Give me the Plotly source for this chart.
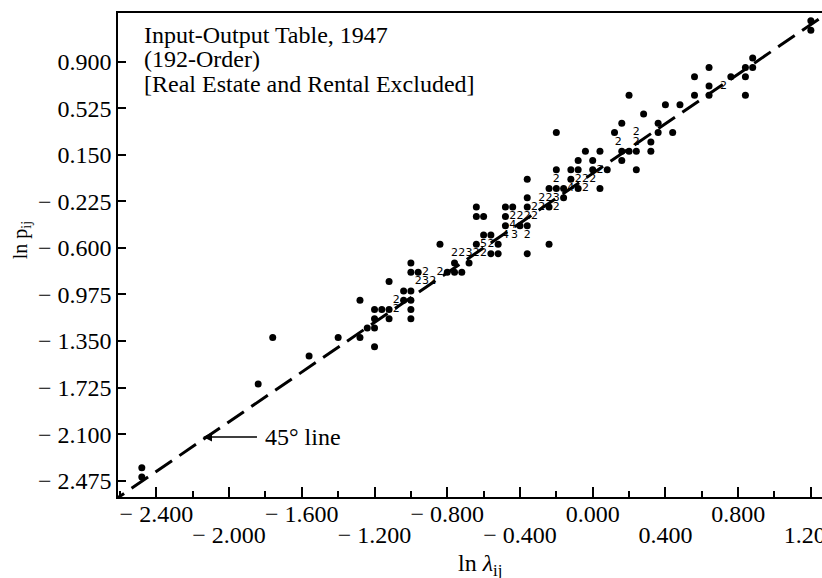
import plotly.graph_objects as go

# ---- data ----
# single observations (ln lambda_ij, ln p_ij)
dot_x = [1.20, 1.20, 0.88,
         0.64, 0.84, 0.88,
         0.56, 0.76, 0.84,
         0.64,
         0.20, 0.56, 0.64, 0.84,
         0.40, 0.48,
         0.28,
         0.16, 0.36,
         -0.20, 0.12, 0.36, 0.44,
         0.32,
         -0.04, 0.04, 0.16, 0.20, 0.24, 0.32,
         -0.08, 0.00, 0.16,
         -0.20, -0.12, -0.08, 0.00, 0.08, 0.24,
         -0.36, -0.12,
         -0.24, -0.20, -0.16, -0.08, 0.04,
         -0.36, -0.16,
         -0.64, -0.48, -0.44, -0.36, -0.24,
         -0.64, -0.60, -0.48,
         -0.48, -0.40, -0.36,
         -0.60, -0.56,
         -0.84, -0.64, -0.52, -0.24,
         -0.56, -0.52, -0.36,
         -1.00, -0.76, -0.68,
         -1.00, -0.96, -0.80, -0.76, -0.72,
         -1.12,
         -1.04, -1.00,
         -1.28, -1.04, -1.00,
         -1.20, -1.16, -1.12, -1.00,
         -1.20, -1.12, -1.00,
         -1.24, -1.20,
         -1.76, -1.40, -1.28,
         -1.20,
         -1.56,
         -1.84,
         -2.48,
         -2.48]
dot_y = [1.229, 1.154, 0.929,
         0.854, 0.854, 0.854,
         0.779, 0.779, 0.779,
         0.704,
         0.629, 0.629, 0.629, 0.629,
         0.554, 0.554,
         0.479,
         0.404, 0.404,
         0.329, 0.329, 0.329, 0.329,
         0.254,
         0.179, 0.179, 0.179, 0.179, 0.179, 0.179,
         0.104, 0.104, 0.104,
         0.029, 0.029, 0.029, 0.029, 0.029, 0.029,
         -0.046, -0.046,
         -0.121, -0.121, -0.121, -0.121, -0.121,
         -0.196, -0.196,
         -0.271, -0.271, -0.271, -0.271, -0.271,
         -0.346, -0.346, -0.346,
         -0.421, -0.421, -0.421,
         -0.496, -0.496,
         -0.571, -0.571, -0.571, -0.571,
         -0.646, -0.646, -0.646,
         -0.721, -0.721, -0.721,
         -0.796, -0.796, -0.796, -0.796, -0.796,
         -0.871,
         -0.946, -0.946,
         -1.021, -1.021, -1.021,
         -1.096, -1.096, -1.096, -1.096,
         -1.171, -1.171, -1.171,
         -1.246, -1.246,
         -1.321, -1.321, -1.321,
         -1.396,
         -1.471,
         -1.696,
         -2.371,
         -2.446]

# coincident observations, printed as their count
mult_x = [0.72, 0.14, 0.24, 0.24, 0.04,
          -0.20, -0.08, -0.04, 0.00,
          -0.12, -0.04,
          -0.28, -0.24, -0.20,
          -0.32, -0.28, -0.20,
          -0.44, -0.40, -0.36, -0.32,
          -0.44,
          -0.48, -0.43, -0.36,
          -0.60, -0.56,
          -0.76, -0.72, -0.68, -0.64, -0.60,
          -0.92, -0.84,
          -0.96, -0.92, -0.88,
          -1.08, -1.08]
mult_y = [0.704, 0.254, 0.254, 0.329, 0.029,
          -0.046, -0.046, -0.046, -0.046,
          -0.121, -0.121,
          -0.196, -0.196, -0.196,
          -0.271, -0.271, -0.271,
          -0.346, -0.346, -0.346, -0.346,
          -0.421,
          -0.496, -0.496, -0.496,
          -0.571, -0.571,
          -0.646, -0.646, -0.646, -0.646, -0.646,
          -0.796, -0.796,
          -0.871, -0.871, -0.871,
          -1.021, -1.096]
mult_count = ["2", "2", "2", "2", "2",
              "2", "2", "2", "2",
              "4", "2",
              "2", "2", "3",
              "2", "2", "2",
              "2", "2", "2", "2",
              "4",
              "4", "3", "2",
              "5", "2",
              "2", "2", "3", "2", "2",
              "2", "2",
              "2", "3", "2",
              "2", "2"]

line45 = [-2.8, 1.4]

y_ticks = [0.900, 0.525, 0.150, -0.225, -0.600, -0.975, -1.350, -1.725, -2.100, -2.475]
y_tick_text = ["0.900", "0.525", "0.150", "\u2212 0.225", "\u2212 0.600", "\u2212 0.975",
               "\u2212 1.350", "\u2212 1.725", "\u2212 2.100", "\u2212 2.475"]
x_row1 = [-2.4, -1.6, -0.8, 0.0, 0.8]
x_row1_text = ["\u2212 2.400", "\u2212 1.600", "\u2212 0.800", "0.000", "0.800"]
x_row2 = [-2.0, -1.2, -0.4, 0.4, 1.2]
x_row2_text = ["\u2212 2.000", "\u2212 1.200", "\u2212 0.400", "0.400", "1.200"]

X_RANGE = [-2.611, 1.2613]
Y_RANGE = [-2.6063, 1.2923]

SERIF = "Liberation Serif, Times New Roman, serif"

fig = go.Figure()
fig.add_trace(go.Scatter(x=line45, y=line45, mode="lines",
                         line=dict(color="black", width=3, dash="20px,9px"),
                         hoverinfo="skip", showlegend=False))
fig.add_trace(go.Scatter(x=dot_x, y=dot_y, mode="markers",
                         marker=dict(color="black", size=7, line=dict(width=0)),
                         showlegend=False))
fig.add_trace(go.Scatter(x=mult_x, y=mult_y, mode="text", text=mult_count,
                         textposition="middle center",
                         textfont=dict(family="DejaVu Sans", size=11, color="black"),
                         showlegend=False))
fig.add_trace(go.Scatter(x=[None], y=[None], xaxis="x2", yaxis="y",
                         mode="markers", showlegend=False, hoverinfo="skip"))

fig.update_layout(
    width=822, height=578,
    margin=dict(l=118, r=0, t=13, b=81),
    paper_bgcolor="white", plot_bgcolor="white",
    xaxis=dict(range=X_RANGE, showline=True, linecolor="black", linewidth=1.5, mirror=True,
               showgrid=False, zeroline=False,
               tickmode="array", tickvals=x_row1 + x_row2,
               ticktext=x_row1_text + [" "] * len(x_row2),
               ticks="inside", ticklen=10, tickwidth=1.5, tickcolor="black",
               ticklabelstandoff=-6,
               minor=dict(dtick=0.2, tick0=-2.4, ticks="inside", ticklen=6,
                          tickwidth=1.5, tickcolor="black", showgrid=False),
               tickfont=dict(family=SERIF, size=24, color="black"),
               automargin=False),
    xaxis2=dict(range=X_RANGE, overlaying="x", anchor="y", side="bottom",
                showline=False, showgrid=False, zeroline=False,
                tickmode="array", tickvals=x_row2, ticktext=x_row2_text,
                ticks="", ticklabelstandoff=21, ticklabeloverflow="allow",
                tickfont=dict(family=SERIF, size=24, color="black"),
                automargin=False),
    yaxis=dict(range=Y_RANGE, showline=True, linecolor="black", linewidth=1.5, mirror=False,
               showgrid=False, zeroline=False,
               tickmode="array", tickvals=y_ticks, ticktext=y_tick_text,
               ticks="inside", ticklen=8, tickwidth=1.5, tickcolor="black",
               tickfont=dict(family=SERIF, size=24, color="black"),
               automargin=False),
    annotations=[
        dict(xref="paper", yref="paper", x=0.034, y=0.9554, xanchor="left", yanchor="middle",
             text="Input-Output Table, 1947", showarrow=False,
             font=dict(family=SERIF, size=24, color="black")),
        dict(xref="paper", yref="paper", x=0.034, y=0.9041, xanchor="left", yanchor="middle",
             text="(192-Order)", showarrow=False,
             font=dict(family=SERIF, size=24, color="black")),
        dict(xref="paper", yref="paper", x=0.034, y=0.8533, xanchor="left", yanchor="middle",
             text="[Real Estate and Rental Excluded]", showarrow=False,
             font=dict(family=SERIF, size=24, color="black")),
        dict(xref="x", yref="y", x=-2.1436, y=-2.123, ax=54, ay=0,
             text="45\u00b0 line", showarrow=True, arrowhead=2, arrowsize=1.2,
             arrowwidth=1.5, arrowcolor="black", xanchor="left", borderpad=7,
             font=dict(family=SERIF, size=24, color="black")),
        dict(xref="paper", yref="paper", x=0.514, y=-0.1405, xanchor="center", yanchor="middle",
             text="ln <i>\u03bb</i><sub>ij</sub>", showarrow=False,
             font=dict(family=SERIF, size=24, color="black")),
        dict(xref="paper", yref="paper", x=-0.136, y=0.531, xanchor="center", yanchor="middle",
             text="ln p<sub>ij</sub>", textangle=-90, showarrow=False,
             font=dict(family=SERIF, size=20, color="black")),
    ],
)

fig.write_html("out.html", config={"displayModeBar": False},
               post_script="document.body.style.margin='0px';")
